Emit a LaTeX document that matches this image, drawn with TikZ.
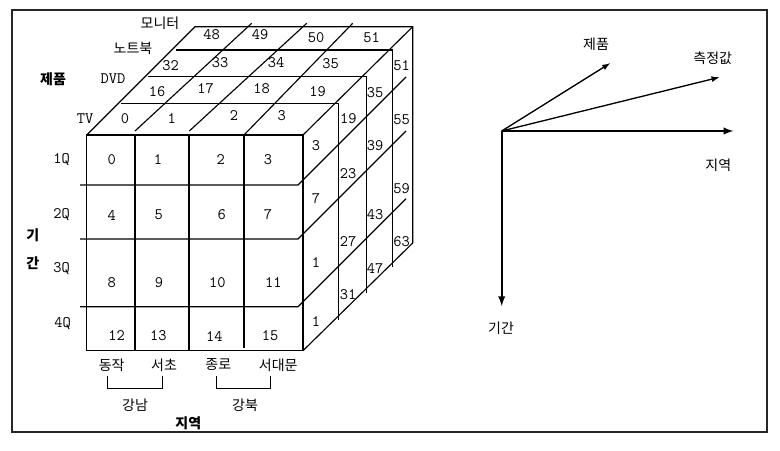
\documentclass[tikz,border=0pt]{standalone}
\usepackage{fontspec}
\newfontfamily\kr{Noto Sans CJK KR}
\usepackage{tikz}
\tikzstyle{num}=[font=\ttfamily\fontsize{12}{12}\selectfont, inner sep=0pt]
\tikzstyle{kor}=[font=\kr\fontsize{10.5}{11}\selectfont, inner sep=0pt]
\tikzstyle{korb}=[font=\kr\bfseries\fontsize{10.5}{11}\selectfont, inner sep=0pt]
\tikzstyle{cube}=[draw=black, line width=0.85pt]
\tikzstyle{l}=[draw,-latex, line width=1.5pt]
\tikzstyle{thin}=[draw,-latex, line width=1pt]

\begin{document}
\begin{tikzpicture}[x=0.75pt,y=-0.75pt]
\useasboundingbox (0,0) rectangle (780,450);

% frame
\draw[line width=1.2pt, black!85] (12,10) rectangle (767,432);

% front face
\draw[cube] (86.7,135) rectangle (303,350.7);
\draw[cube] (135,135) -- (135,350.7);
\draw[cube] (189,135) -- (189,350.7);
\draw[cube] (244,135) -- (244,348);

% rows
\draw[cube] (80,185) -- (298,185) -- (406,77);
\draw[cube] (80,239) -- (298,239) -- (406,131);
\draw[cube] (80,306.7) -- (298,306.7) -- (406,198.7);

% top face
\draw[cube] (86.7,135) -- (195,26.7) -- (412.7,26.7) -- (412.7,243) -- (303,350.7);
\draw[cube] (303,135) -- (412.7,26.7);
\draw[cube] (121,103.3) -- (338.3,103.3) -- (338.3,320);
\draw[cube] (148,76.7) -- (366.7,76.7) -- (366.7,293);
\draw[cube] (176,50) -- (392.7,50) -- (392.7,267);
\draw[cube] (135,131) -- (251.7,23.3);
\draw[cube] (189.3,131) -- (306.7,23.3);
\draw[cube] (244,135) -- (352.7,23.3);

% products
\node[num] (tv) at (85,119) {TV};
\node[num] (t0) at (125,119) {0};
\node[num] (t1) at (171.7,119) {1};
\node[num] (t2) at (234,116) {2};
\node[num] (t3) at (281.7,116) {3};
\node[num] (dvd) at (113,79) {DVD};
\node[num] (t16) at (157,92) {16};
\node[num] (t17) at (205.7,89) {17};
\node[num] (t18) at (261.7,89) {18};
\node[num] (t19) at (317.7,92) {19};
\node[kor] (nb) at (133,48) {노트북};
\node[num] (t32) at (170.7,66) {32};
\node[num] (t33) at (220,63) {33};
\node[num] (t34) at (276,63) {34};
\node[num] (t35) at (330.7,64) {35};
\node[kor] (mon) at (160,23) {모니터};
\node[num] (t48) at (211.7,35) {48};
\node[num] (t49) at (260,35) {49};
\node[num] (t50) at (316,38) {50};
\node[num] (t51) at (371.7,38) {51};
\node[korb] (prod) at (53,79) {제품};

% periods
\node[num] (q1) at (61.7,160) {1Q};
\node[num] (q2) at (61.7,215) {2Q};
\node[num] (q3) at (61.7,269) {3Q};
\node[num] (q4) at (62.7,323.3) {4Q};
\node[korb] (per1) at (32.7,235) {기};
\node[korb] (per2) at (32.7,262.7) {간};

% front cells
\node[num] (f0) at (111.7,160) {0};
\node[num] (f1) at (158,160) {1};
\node[num] (f2) at (220.7,160) {2};
\node[num] (f3) at (268,160) {3};
\node[num] (f4) at (111.7,215) {4};
\node[num] (f5) at (158.7,215) {5};
\node[num] (f6) at (221.7,215) {6};
\node[num] (f7) at (268,215) {7};
\node[num] (f8) at (111.7,282.7) {8};
\node[num] (f9) at (159,282.7) {9};
\node[num] (f10) at (217.3,282.7) {10};
\node[num] (f11) at (273.3,282.7) {11};
\node[num] (f12) at (116.7,336) {12};
\node[num] (f13) at (158.3,336) {13};
\node[num] (f14) at (214.3,336) {14};
\node[num] (f15) at (270,336) {15};

% side cells
\node[num] (s3) at (316,145.7) {3};
\node[num] (s7) at (316,199) {7};
\node[num] (s11) at (316,262.3) {1};
\node[num] (s15) at (316,321.7) {1};
\node[num] (s19) at (348.3,119) {19};
\node[num] (s23) at (348,173.3) {23};
\node[num] (s27) at (348,241.7) {27};
\node[num] (s31) at (348,295) {31};
\node[num] (s35) at (375,92.7) {35};
\node[num] (s39) at (375,146) {39};
\node[num] (s43) at (375,215) {43};
\node[num] (s47) at (375,268.3) {47};
\node[num] (s51) at (401.7,66) {51};
\node[num] (s55) at (401.7,119.3) {55};
\node[num] (s59) at (401.7,188.3) {59};
\node[num] (s63) at (401.7,241.7) {63};

% regions
\node[kor] (r1) at (111.7,365) {동작};
\node[kor] (r2) at (164,365) {서초};
\node[kor] (r3) at (218.3,365) {종로};
\node[kor] (r4) at (278.3,365) {서대문};
\node[kor] (gn) at (135,405) {강남};
\node[kor] (gb) at (245,405) {강북};
\node[korb] (reg) at (188.3,423.3) {지역};
\draw[line width=0.85pt] (107.3,376) -- (107.3,388.3) -- (162.7,388.3) -- (162.7,376);
\draw[line width=0.85pt] (216.7,376) -- (216.7,388.3) -- (270.7,388.3) -- (270.7,376);

% axes
\coordinate (o) at (501.7,131);
\coordinate (ar) at (733.3,131);
\coordinate (ap) at (501.7,306);
\coordinate (ad) at (610,63.3);
\coordinate (am) at (719.3,77.3);
\node[kor] (ld) at (596,44) {제품};
\node[kor] (lm) at (712.7,58.3) {측정값};
\node[kor] (lr) at (718.3,165) {지역};
\node[kor] (lp) at (501,328.3) {기간};

\path [l] (o) -- (ar);
\path [l] (o) -- (ap);
\path [thin] (o) -- (ad);
\path [thin] (o) -- (am);

\end{tikzpicture}
\end{document}
